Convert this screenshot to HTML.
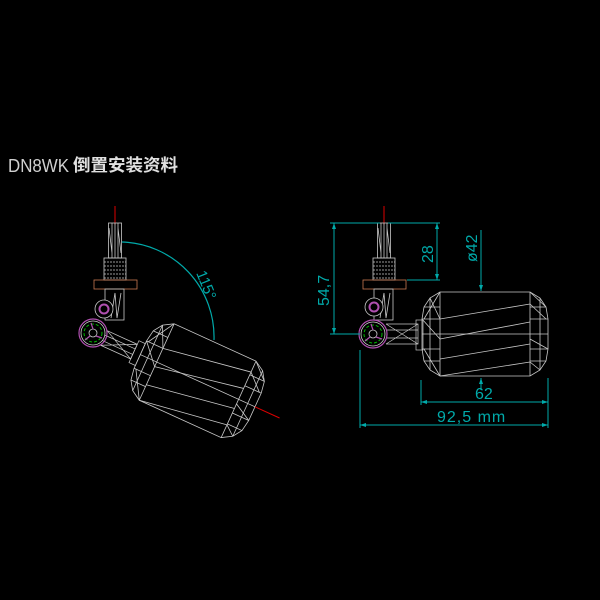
<!DOCTYPE html>
<html><head><meta charset="utf-8"><style>
html,body{margin:0;padding:0;background:#000;}
svg{display:block}
</style></head><body>
<svg width="600" height="600" viewBox="0 0 600 600" xmlns="http://www.w3.org/2000/svg">
<defs>
<g id="float" fill="none" stroke="#c8c8c8" stroke-width="0.8">
  <path d="M-63,-15 L-61,-27 L-55,-36 L-45,-42 L45,-42 L55,-36 L61,-27 L63,-15 L63,15 L61,27 L55,36 L45,42 L-45,42 L-55,36 L-61,27 L-63,15 Z"/>
  <path d="M-45,-42 V42 M45,-42 V42 M-55,-36 V36 M55,-36 V36 M-63,0 H63 M-61,-27 H-45 M45,-27 H61 M-61,27 H-45 M45,27 H61 M-63,-15 H-45 M45,-15 H63 M-63,15 H-45 M45,15 H63"/>
  <path d="M-45,-15 L45,-30 M-45,5 L45,-12 M-45,25 L45,10 M-45,42 L45,28 M-55,-36 L-45,-15 M-63,-15 L-45,5 M45,-30 L61,-15 M45,5 L63,15 M45,28 L55,36 M-61,15 L-45,42 M-45,-42 L-61,-15 M61,-27 L45,-42"/>
</g>
<g id="stem" fill="none" stroke="#c8c8c8" stroke-width="0.8">
  <rect x="-6.5" y="0" width="13" height="35"/>
  <path d="M-3,0 V35 M0,0 V35 M3,0 V35 M-6,5 L-3,30 M3,5 L6,30"/>
  <rect x="-11" y="35" width="22" height="22"/>
  <path d="M-11,39 H11 M-11,43 H11 M-11,47 H11 M-11,51 H11 M-11,55 H11" stroke-dasharray="2,1"/>
  <rect x="-21" y="57" width="43" height="9" stroke="#c87850"/>
  <rect x="-10" y="66" width="19" height="31"/>
  <path d="M-4,95 L0,70 L2,95 L6,70" />
</g>
<g id="pivot">
  <circle r="14" fill="none" stroke="#b050b0" stroke-width="1.2"/>
  <circle r="12" fill="none" stroke="#ccc" stroke-width="0.8"/>
  <circle r="9" fill="none" stroke="#0b0" stroke-width="1" stroke-dasharray="3,2"/>
  <circle r="4" fill="none" stroke="#ccc" stroke-width="0.8"/>
  <path d="M0,-4 L-2,-10 M3,3 L9,5 M-3,3 L-8,7" stroke="#b050b0" stroke-width="1.2"/>
</g>
</defs>

<text x="8" y="172" font-family="Liberation Sans, sans-serif" font-size="18" fill="#d0d0d0" textLength="61" lengthAdjust="spacingAndGlyphs">DN8WK</text>
<text x="73" y="171" font-family="Liberation Sans, 'Noto Sans CJK SC', sans-serif" font-size="17" fill="#e0e0e0" font-weight="bold" textLength="105" lengthAdjust="spacingAndGlyphs">倒置安装资料</text>

<!-- LEFT VIEW -->
<line x1="115" y1="206" x2="115" y2="225" stroke="#d00" stroke-width="1"/>
<use href="#stem" x="115" y="223"/>
<circle cx="104" cy="309" r="9" fill="#000" stroke="#ccc" stroke-width="0.8"/>
<circle cx="104" cy="309" r="4.5" fill="none" stroke="#b050b0" stroke-width="2"/>
<g transform="translate(93,333) rotate(24.5)">
  <path d="M12,-8 H45 V8 H12" fill="none" stroke="#c8c8c8" stroke-width="0.8"/>
  <path d="M12,-8 L45,8 M12,8 L45,-8 M12,-3 H45 M12,3 H45 M45,-12 V12 H52 V-12 Z" fill="none" stroke="#c8c8c8" stroke-width="0.7"/>
  <use href="#float" x="115" y="0"/>
  <line x1="178" y1="0" x2="205" y2="0" stroke="#d00" stroke-width="1"/>
</g>
<use href="#pivot" x="93" y="333"/>
<path d="M122,242 A95,95 0 0 1 214,340" fill="none" stroke="#0aa" stroke-width="1.2"/>
<text x="0" y="0" transform="translate(196,273) rotate(68)" font-family="Liberation Sans, sans-serif" font-size="15" fill="#0aa">115°</text>

<!-- RIGHT VIEW -->
<line x1="384" y1="206" x2="384" y2="225" stroke="#d00" stroke-width="1"/>
<use href="#stem" x="384" y="223"/>
<circle cx="374" cy="307" r="9" fill="#000" stroke="#ccc" stroke-width="0.8"/>
<circle cx="374" cy="307" r="4.5" fill="none" stroke="#b050b0" stroke-width="2"/>
<g fill="none" stroke="#c8c8c8" stroke-width="0.7">
  <path d="M386,324 H418 V344 H386 M386,324 L418,344 M386,344 L418,324 M386,330 H418 M386,338 H418"/>
  <rect x="416" y="320" width="7" height="30"/>
</g>
<use href="#float" x="485" y="334"/>
<use href="#pivot" x="373" y="334"/>

<g stroke="#0aa" stroke-width="1" fill="none">
  <path d="M334,223 V334 M330,223 H380 M330,334 H360"/>
  <path d="M437,223 V280 M388,223 H440 M407,280 H440"/>
  <path d="M481,230 V291 M481,378 V390"/>
  <path d="M421,380 V405 M548,378 V428 M360,350 V428"/>
  <path d="M421,402 H548 M360,425 H548"/>
</g>
<g fill="#0aa">
  <path d="M334,223 l-2,6 h4 z M334,334 l-2,-6 h4 z M437,223 l-2,6 h4z M437,280 l-2,-6 h4z M481,291 l-2,-6 h4z M481,378 l-2,6 h4z M421,402 l6,-2 v4z M548,402 l-6,-2 v4z M360,425 l6,-2 v4z M548,425 l-6,-2 v4z"/>
</g>
<g font-family="Liberation Sans, sans-serif" font-size="16" fill="#0aa">
  <text transform="translate(329,306) rotate(-90)">54,7</text>
  <text transform="translate(433,263) rotate(-90)">28</text>
  <text transform="translate(477,262) rotate(-90)">ø42</text>
  <text x="475" y="399">62</text>
  <text x="437" y="422" letter-spacing="1">92,5 mm</text>
</g>
</svg>
</body></html>
